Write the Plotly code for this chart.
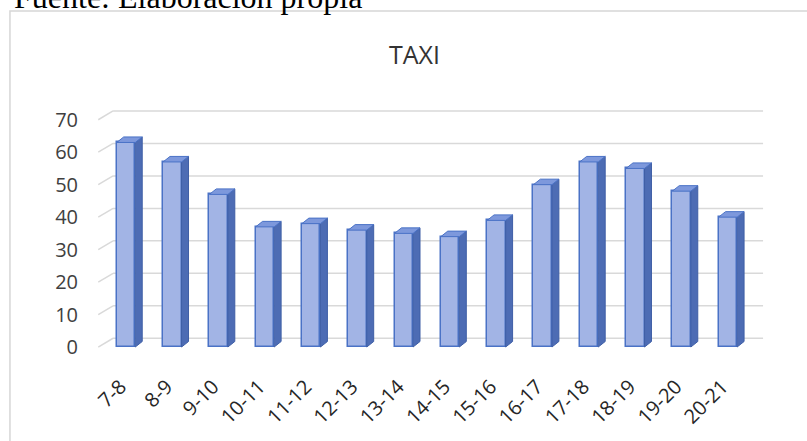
import plotly.graph_objects as go

horas = ["7-8", "8-9", "9-10", "10-11", "11-12", "12-13", "13-14",
         "14-15", "15-16", "16-17", "17-18", "18-19", "19-20", "20-21"]
viajes = [63, 57, 47, 37, 38, 36, 35, 34, 39, 50, 57, 55, 48, 40]
y_ticks = [0, 10, 20, 30, 40, 50, 60, 70]

x = list(range(len(horas)))

# pseudo 3D look (excel style columns)
half = 0.2
dx, dy = 0.15, 1.7
wall_dx, wall_dy = 0.32, 2.7

side_x, side_y, top_x, top_y = [], [], [], []
for i, v in zip(x, viajes):
    side_x += [i + half, i + half + dx, i + half + dx, i + half, i + half, None]
    side_y += [0, dy, v + dy, v, 0, None]
    top_x += [i - half, i + half, i + half + dx, i - half + dx, i - half, None]
    top_y += [v, v, v + dy, v + dy, v, None]

fig = go.Figure()
fig.add_trace(go.Bar(x=x, y=viajes, width=2 * half,
                     marker=dict(color="#a2b4e5", line=dict(color="#4a72c6", width=1.5))))
fig.add_trace(go.Scatter(x=side_x, y=side_y, mode="lines", fill="toself",
                         fillcolor="#4d6cb4", line=dict(color="#3f5fa6", width=1)))
fig.add_trace(go.Scatter(x=top_x, y=top_y, mode="lines", fill="toself",
                         fillcolor="#7d98dc", line=dict(color="#4a72c6", width=1)))

shapes = []
for t in y_ticks:
    shapes.append(dict(type="line", xref="x", yref="y", layer="below",
                       x0=-0.60 + wall_dx, x1=13.76, y0=t + wall_dy, y1=t + wall_dy,
                       line=dict(color="#d9d9d9", width=1.5)))
    shapes.append(dict(type="line", xref="x", yref="y", layer="below",
                       x0=-0.60, x1=-0.60 + wall_dx, y0=t, y1=t + wall_dy,
                       line=dict(color="#d9d9d9", width=1.5)))
# chart frame
shapes.append(dict(type="rect", xref="paper", yref="paper", layer="below",
                   x0=-0.126, x1=1.1, y0=-0.5, y1=1.416,
                   line=dict(color="#d6d6d6", width=1.5)))

fig.update_layout(
    width=807, height=441,
    margin=dict(l=95, r=37, t=110, b=93),
    paper_bgcolor="white", plot_bgcolor="rgba(0,0,0,0)",
    showlegend=False,
    bargap=0,
    font=dict(family="Open Sans", color="#404040"),
    shapes=shapes,
    annotations=[
        dict(text="TAXI", xref="paper", yref="paper", x=0.4726, y=1.235,
             xanchor="center", yanchor="middle", showarrow=False,
             font=dict(size=25, color="#333333")),
        dict(text="Fuente: Elaboración propia", xref="paper", yref="paper",
             x=-0.123, y=1.474, xanchor="left", yanchor="middle", showarrow=False,
             font=dict(family="Liberation Serif", size=32, color="black")),
    ],
)
fig.update_xaxes(range=[-0.67, 13.91], tickvals=[i - 0.12 for i in x], ticktext=horas,
                 tickangle=-45, showgrid=False, zeroline=False, showline=False,
                 tickfont=dict(size=20, color="#262626"), ticklabelstandoff=22)
fig.update_yaxes(range=[-0.3, 73], tickvals=y_ticks, showgrid=False, zeroline=False,
                 showline=False, tickfont=dict(size=20, color="#404040"),
                 ticklabelstandoff=16)

fig.write_html("out.html", config={"displayModeBar": False},
               post_script="document.body.style.margin = '0';")
